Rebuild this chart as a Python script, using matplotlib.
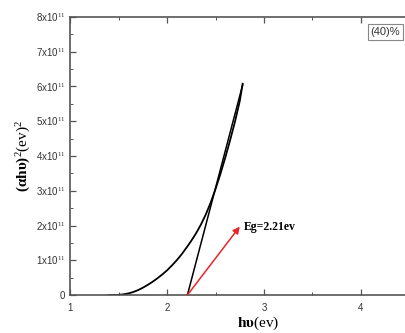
import numpy as np
import matplotlib
matplotlib.use("Agg")
from matplotlib import pyplot as plt
from matplotlib.ticker import MultipleLocator

plt.rcParams['font.family'] = ['Liberation Sans', 'DejaVu Sans']
plt.rcParams['mathtext.fontset'] = 'custom'
plt.rcParams['mathtext.rm'] = 'Liberation Serif'
plt.rcParams['mathtext.bf'] = 'Liberation Serif:bold'
plt.rcParams['mathtext.it'] = 'Liberation Serif:italic'

# Tauc plot data, (alpha h nu)^2 in units of 1e11
hv = [1.40, 1.45, 1.50, 1.55, 1.60, 1.65, 1.70, 1.75, 1.80, 1.85, 1.90, 1.95,
      2.00, 2.05, 2.10, 2.15, 2.20, 2.25, 2.30, 2.35, 2.40, 2.45, 2.50, 2.55,
      2.60, 2.65, 2.70, 2.75, 2.78]
ahv2 = [0.0, 0.0, 0.005, 0.02, 0.045, 0.085, 0.14, 0.21, 0.29, 0.38, 0.48, 0.59,
        0.71, 0.85, 1.00, 1.17, 1.36, 1.56, 1.78, 2.03, 2.32, 2.66, 3.05, 3.48,
        3.95, 4.45, 4.98, 5.58, 6.08]

# linear extrapolation to the energy gap
tangent_x = [2.21, 2.78]
tangent_y = [0.0, 6.05]
eg = 2.21
arrow_tip = (2.75, 1.97)

yticks = [0, 1, 2, 3, 4, 5, 6, 7, 8]
ytick_labels = ['0'] + [r'%dx10$^{11}$' % v for v in yticks[1:]]
xticks = [1, 2, 3, 4]

gray = '#555555'

fig = plt.figure(figsize=(4.05, 3.33), dpi=100)
ax = fig.add_axes([0.173, 0.114, 0.838, 0.835])

ax.plot(hv, ahv2, color='black', linewidth=1.3)
ax.plot(tangent_x, tangent_y, color='black', linewidth=1.1)

ax.annotate('', xy=arrow_tip, xytext=(eg, 0),
            arrowprops=dict(arrowstyle='-|>', color='#e8262a', lw=1.1,
                            mutation_scale=10, shrinkA=0, shrinkB=0))
ax.text(arrow_tip[0] + 0.04, arrow_tip[1], 'Eg=2.21ev', fontsize=8.5,
        fontweight='bold', family='Liberation Serif', va='center', ha='left')

ax.set_xlim(1, 4.5)
ax.set_ylim(0, 8)
ax.set_xticks(xticks)
ax.set_yticks(yticks)
ax.set_yticklabels(ytick_labels)
ax.xaxis.set_minor_locator(MultipleLocator(0.5))
ax.yaxis.set_minor_locator(MultipleLocator(0.5))

ax.tick_params(which='both', direction='in', top=True, right=False,
               colors=gray, labelsize=7, labelcolor='#333333')
ax.tick_params(which='major', length=4, width=0.9)
ax.tick_params(which='minor', length=2, width=0.7)
ax.tick_params(axis='x', pad=6)
for s in ax.spines.values():
    s.set_color(gray)
    s.set_linewidth(1.2)

ax.set_xlabel(r'$\mathbf{h\upsilon}\mathrm{(ev)}$', fontsize=11)
ax.xaxis.set_label_coords(0.554, -0.07)
ax.set_ylabel(r'$\mathbf{(\alpha h\upsilon)}^{2}\mathrm{(ev)}^{2}$', fontsize=11, labelpad=2)

ax.text(0.972, 0.964, '(40)%', transform=ax.transAxes, fontsize=8,
        ha='right', va='top', color='#333333',
        bbox=dict(boxstyle='square,pad=0.25', fc='white', ec='#888888', lw=0.8))

fig.savefig('out.png', dpi=100)
